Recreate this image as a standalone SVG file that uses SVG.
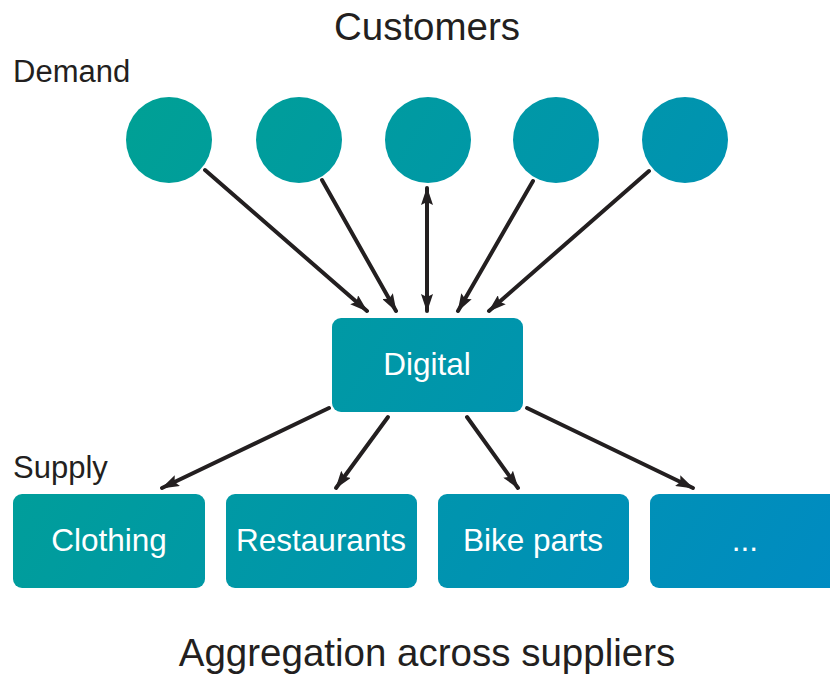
<svg xmlns="http://www.w3.org/2000/svg" width="830" height="675" viewBox="0 0 830 675">
<style>
.lbl{font-family:"Liberation Sans",Arial,sans-serif;fill:#231f20}
.wt{font-family:"Liberation Sans",Arial,sans-serif;fill:#ffffff;font-size:31.5px;text-anchor:middle}
.conn{stroke:#231f20;stroke-width:4;fill:none;stroke-linecap:round}
.fill{fill:url(#g)}
</style>
<defs>
<linearGradient id="g" gradientUnits="userSpaceOnUse" x1="0" y1="100" x2="830" y2="600">
<stop offset="0" stop-color="#00a38f"/>
<stop offset="1" stop-color="#008bc2"/>
</linearGradient>
<marker id="ah" viewBox="0 0 18 12" refX="17" refY="6" markerWidth="18" markerHeight="12" markerUnits="userSpaceOnUse" orient="auto-start-reverse">
<path d="M0,0 L18,6 L0,12 L3,6 Z" fill="#231f20"/>
</marker>
</defs>
<rect width="830" height="675" fill="#ffffff"/>
<text class="lbl" x="427" y="40" font-size="38.5" text-anchor="middle">Customers</text>
<text class="lbl" x="13" y="82" font-size="31">Demand</text>
<text class="lbl" x="13" y="478" font-size="31">Supply</text>
<text class="lbl" x="427" y="666" font-size="38.5" text-anchor="middle">Aggregation across suppliers</text>
<g id="c1"><circle class="fill" cx="169" cy="140" r="43"/></g>
<g id="c2"><circle class="fill" cx="299" cy="140" r="43"/></g>
<g id="c3"><circle class="fill" cx="428" cy="140" r="43"/></g>
<g id="c4"><circle class="fill" cx="556" cy="140" r="43"/></g>
<g id="c5"><circle class="fill" cx="685" cy="140" r="43"/></g>
<g id="digital"><rect class="fill" x="332" y="318" width="191" height="94" rx="9"/><text class="wt" x="427" y="375">Digital</text></g>
<g id="clothing"><rect class="fill" x="13" y="494" width="192" height="94" rx="9"/><text class="wt" x="109" y="551">Clothing</text></g>
<g id="restaurants"><rect class="fill" x="226" y="494" width="191" height="94" rx="9"/><text class="wt" x="321" y="551">Restaurants</text></g>
<g id="bike"><rect class="fill" x="438" y="494" width="191" height="94" rx="9"/><text class="wt" x="533" y="551">Bike parts</text></g>
<g id="more"><rect class="fill" x="650" y="494" width="200" height="94" rx="9"/><text class="wt" x="745" y="551">...</text></g>
<g id="connectors">
<line class="conn" x1="205" y1="170" x2="367" y2="311" marker-end="url(#ah)"/>
<line class="conn" x1="322" y1="180" x2="396" y2="311" marker-end="url(#ah)"/>
<line class="conn" x1="427" y1="188" x2="427" y2="311" marker-start="url(#ah)" marker-end="url(#ah)"/>
<line class="conn" x1="533" y1="181" x2="458" y2="311" marker-end="url(#ah)"/>
<line class="conn" x1="649" y1="171" x2="489" y2="311" marker-end="url(#ah)"/>
<line class="conn" x1="329" y1="408" x2="162" y2="488" marker-end="url(#ah)"/>
<line class="conn" x1="388" y1="417" x2="336" y2="488" marker-end="url(#ah)"/>
<line class="conn" x1="467" y1="417" x2="518" y2="488" marker-end="url(#ah)"/>
<line class="conn" x1="527" y1="408" x2="693" y2="488" marker-end="url(#ah)"/>
</g>
</svg>
